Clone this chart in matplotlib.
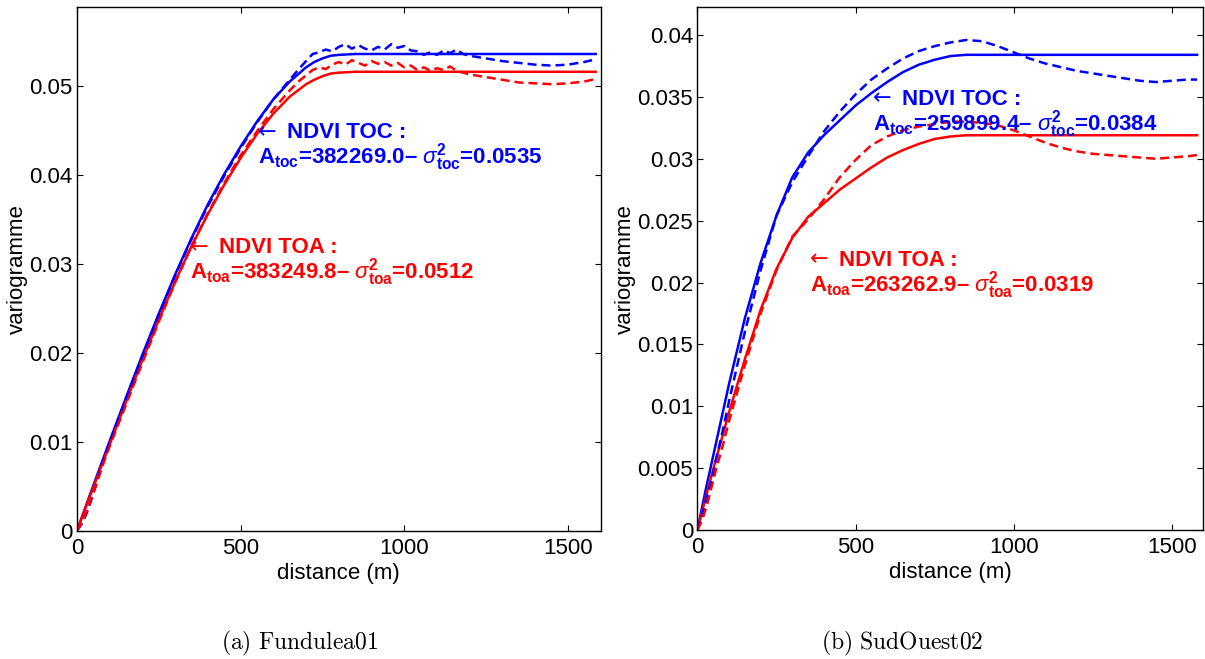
import matplotlib
matplotlib.use("Agg")
import matplotlib.pyplot as plt
from matplotlib.ticker import FuncFormatter

plt.rcParams["font.family"] = ["Liberation Sans", "DejaVu Sans"]
plt.rcParams["mathtext.fontset"] = "custom"
plt.rcParams["mathtext.rm"] = "Liberation Sans"
plt.rcParams["mathtext.bf"] = "Liberation Sans:bold"
plt.rcParams["mathtext.it"] = "Liberation Sans:italic"
plt.rcParams["mathtext.sf"] = "Liberation Sans"

# ---- (a) Fundulea01 : fitted models (solid) ----
fun_model_x = [0, 50, 100, 150, 200, 250, 300, 350, 400, 450, 500, 550, 600,
               650, 700, 725, 750, 775, 800, 850, 1585]
fun_toc_model = [0, 0.0051, 0.0101, 0.0150, 0.0198, 0.0244, 0.0288, 0.0329,
                 0.0367, 0.0401, 0.0432, 0.0460, 0.0485, 0.0505, 0.0521,
                 0.0527, 0.0531, 0.0534, 0.0535, 0.0536, 0.0536]
fun_toa_model = [0, 0.0049, 0.0097, 0.0145, 0.0192, 0.0237, 0.0280, 0.0320,
                 0.0356, 0.0389, 0.0419, 0.0446, 0.0469, 0.0488, 0.0502,
                 0.0507, 0.0511, 0.0514, 0.0515, 0.0516, 0.0516]

# ---- (a) Fundulea01 : experimental variograms (dashed) ----
fun_exp_x = [0, 15, 30, 45, 60, 80, 100, 150, 200, 250, 300, 350, 400, 450,
             500, 550, 600, 650, 680, 700, 720, 740, 760, 780, 800, 820, 840,
             860, 880, 900, 920, 940, 960, 980, 1000, 1020, 1040, 1060, 1080,
             1100, 1120, 1140, 1160, 1180, 1200, 1250, 1300, 1350, 1400, 1450,
             1500, 1550, 1585]
fun_toc_exp = [0, 0.0008, 0.0020, 0.0036, 0.0054, 0.0078, 0.0099, 0.0148,
               0.0196, 0.0243, 0.0287, 0.0328, 0.0365, 0.0399, 0.0430, 0.0459,
               0.0485, 0.0507, 0.0520, 0.0528, 0.0536, 0.0538, 0.0541, 0.0539,
               0.0544, 0.0547, 0.0542, 0.0546, 0.0542, 0.0540, 0.0544, 0.0541,
               0.0547, 0.0543, 0.0545, 0.0540, 0.0539, 0.0535, 0.0538, 0.0535,
               0.0540, 0.0537, 0.0541, 0.0536, 0.0534, 0.0531, 0.0528, 0.0526,
               0.0524, 0.0523, 0.0524, 0.0527, 0.0530]
fun_toa_exp = [0, 0.0009, 0.0022, 0.0037, 0.0053, 0.0075, 0.0095, 0.0142,
               0.0189, 0.0235, 0.0279, 0.0320, 0.0357, 0.0391, 0.0422, 0.0449,
               0.0474, 0.0495, 0.0506, 0.0512, 0.0518, 0.0521, 0.0519, 0.0524,
               0.0527, 0.0524, 0.0529, 0.0526, 0.0523, 0.0528, 0.0525, 0.0527,
               0.0523, 0.0526, 0.0521, 0.0523, 0.0518, 0.0521, 0.0517, 0.0520,
               0.0518, 0.0522, 0.0517, 0.0515, 0.0513, 0.0510, 0.0507, 0.0504,
               0.0503, 0.0502, 0.0503, 0.0505, 0.0508]

# ---- (b) SudOuest02 : fitted models (solid) ----
sud_model_x = [0, 25, 50, 100, 150, 200, 250, 300, 350, 400, 450, 500, 550,
               600, 650, 700, 750, 800, 850, 1580]
sud_toc_model = [0, 0.0031, 0.0060, 0.0118, 0.0171, 0.0216, 0.0254, 0.0285,
                 0.0305, 0.0319, 0.0331, 0.0343, 0.0353, 0.0362, 0.0370,
                 0.0376, 0.0380, 0.0383, 0.0384, 0.0384]
sud_toa_model = [0, 0.0025, 0.0049, 0.0095, 0.0138, 0.0178, 0.0211, 0.0236,
                 0.0253, 0.0264, 0.0275, 0.0284, 0.0293, 0.0301, 0.0307,
                 0.0312, 0.0316, 0.0318, 0.0319, 0.0319]

# ---- (b) SudOuest02 : experimental variograms (dashed) ----
sud_exp_x = [0, 15, 30, 45, 60, 80, 100, 150, 200, 250, 300, 350, 400, 450,
             500, 550, 600, 650, 700, 750, 800, 850, 900, 950, 1000, 1050,
             1100, 1150, 1200, 1250, 1300, 1350, 1400, 1450, 1500, 1550, 1580]
sud_toc_exp = [0, 0.0012, 0.0027, 0.0040, 0.0058, 0.0080, 0.0104, 0.0160,
               0.0210, 0.0254, 0.0281, 0.0302, 0.0322, 0.0338, 0.0352, 0.0364,
               0.0373, 0.0381, 0.0387, 0.0391, 0.0394, 0.0396, 0.0395, 0.0391,
               0.0386, 0.0381, 0.0377, 0.0374, 0.0371, 0.0369, 0.0367, 0.0365,
               0.0363, 0.0362, 0.0363, 0.0364, 0.0364]
sud_toa_exp = [0, 0.0008, 0.0020, 0.0035, 0.0050, 0.0068, 0.0088, 0.0133,
               0.0175, 0.0210, 0.0237, 0.0251, 0.0267, 0.0285, 0.0299, 0.0311,
               0.0318, 0.0323, 0.0326, 0.0328, 0.0330, 0.0330, 0.0329, 0.0327,
               0.0323, 0.0318, 0.0313, 0.0309, 0.0306, 0.0304, 0.0303, 0.0302,
               0.0301, 0.0300, 0.0301, 0.0302, 0.0303]

# annotation texts
fun_toc_fit = ("382269.0", "0.0535")
fun_toa_fit = ("383249.8", "0.0512")
sud_toc_fit = ("259899.4", "0.0384")
sud_toa_fit = ("263262.9", "0.0319")

x_ticks = [0, 500, 1000, 1500]
fun_y_ticks = [0, 0.01, 0.02, 0.03, 0.04, 0.05]
sud_y_ticks = [0, 0.005, 0.01, 0.015, 0.02, 0.025, 0.03, 0.035, 0.04]

BLUE = (0, 0, 1)
RED = (1, 0, 0)
LW = 1.8
DASH = (0, (3.6, 2.0))
FS = 16


def label(ax, x, y, color, name, sub, fit):
    # thin arrow, bold name, then the fit parameters on a second line
    ax.annotate("\u2190", (x, y), xytext=(0, -5.4), textcoords="offset points",
                color=color, fontsize=FS, family="DejaVu Sans",
                ha="left", va="baseline")
    ax.annotate(name, (x, y), xytext=(21, -5.6), textcoords="offset points",
                color=color, fontsize=FS, fontweight="bold",
                ha="left", va="baseline")
    txt = (r"$\mathbf{A}_{\mathbf{%s}}$=%s– $\sigma^{\mathbf{2}}_{\mathbf{%s}}$=%s"
           % (sub, fit[0], sub, fit[1]))
    ax.annotate(txt, (x, y), xytext=(0, -24), textcoords="offset points",
                color=color, fontsize=FS, fontweight="bold", ha="left",
                va="baseline")


def setup(ax, ymax, yticks):
    ax.set_xlim(0, 1600)
    ax.set_ylim(0, ymax)
    ax.set_xticks(x_ticks)
    ax.set_yticks(yticks)
    ax.yaxis.set_major_formatter(FuncFormatter(lambda v, p: "%g" % v))
    ax.tick_params(direction="in", top=True, right=True, length=4,
                   width=0.8, labelsize=FS)
    ax.tick_params(axis="x", pad=5)
    ax.tick_params(axis="y", pad=3)
    for s in ax.spines.values():
        s.set_linewidth(1.0)
    ax.set_xlabel("distance (m)", fontsize=FS, labelpad=3)
    ax.set_ylabel("variogramme", fontsize=FS, labelpad=1)


fig = plt.figure(figsize=(12.05, 6.59), dpi=100)

ax1 = fig.add_axes([77 / 1205, 128.3 / 659, 523.6 / 1205, 523.4 / 659])
ax1.plot(fun_model_x, fun_toc_model, color=BLUE, lw=LW)
ax1.plot(fun_model_x, fun_toa_model, color=RED, lw=LW)
ax1.plot(fun_exp_x, fun_toc_exp, color=BLUE, lw=LW, ls=DASH)
ax1.plot(fun_exp_x, fun_toa_exp, color=RED, lw=LW, ls=DASH)
setup(ax1, 0.05885, fun_y_ticks)
label(ax1, 553, 0.0450, BLUE, "NDVI TOC :", "toc", fun_toc_fit)
label(ax1, 346, 0.0321, RED, "NDVI TOA :", "toa", fun_toa_fit)

ax2 = fig.add_axes([697.4 / 1205, 129 / 659, 506 / 1205, 522.7 / 659])
ax2.plot(sud_model_x, sud_toc_model, color=BLUE, lw=LW)
ax2.plot(sud_model_x, sud_toa_model, color=RED, lw=LW)
ax2.plot(sud_exp_x, sud_toc_exp, color=BLUE, lw=LW, ls=DASH)
ax2.plot(sud_exp_x, sud_toa_exp, color=RED, lw=LW, ls=DASH)
setup(ax2, 0.04224, sud_y_ticks)
label(ax2, 555, 0.0350, BLUE, "NDVI TOC :", "toc", sud_toc_fit)
label(ax2, 357, 0.0220, RED, "NDVI TOA :", "toa", sud_toa_fit)

fig.text(300 / 1205, 1 - 643 / 659, r"$\mathrm{(a)\ Fundulea01}$",
         fontsize=17, math_fontfamily="cm", ha="center", va="center")
fig.text(902 / 1205, 1 - 643 / 659, r"$\mathrm{(b)\ SudOuest02}$",
         fontsize=17, math_fontfamily="cm", ha="center", va="center")

fig.savefig("out.png", dpi=100)
